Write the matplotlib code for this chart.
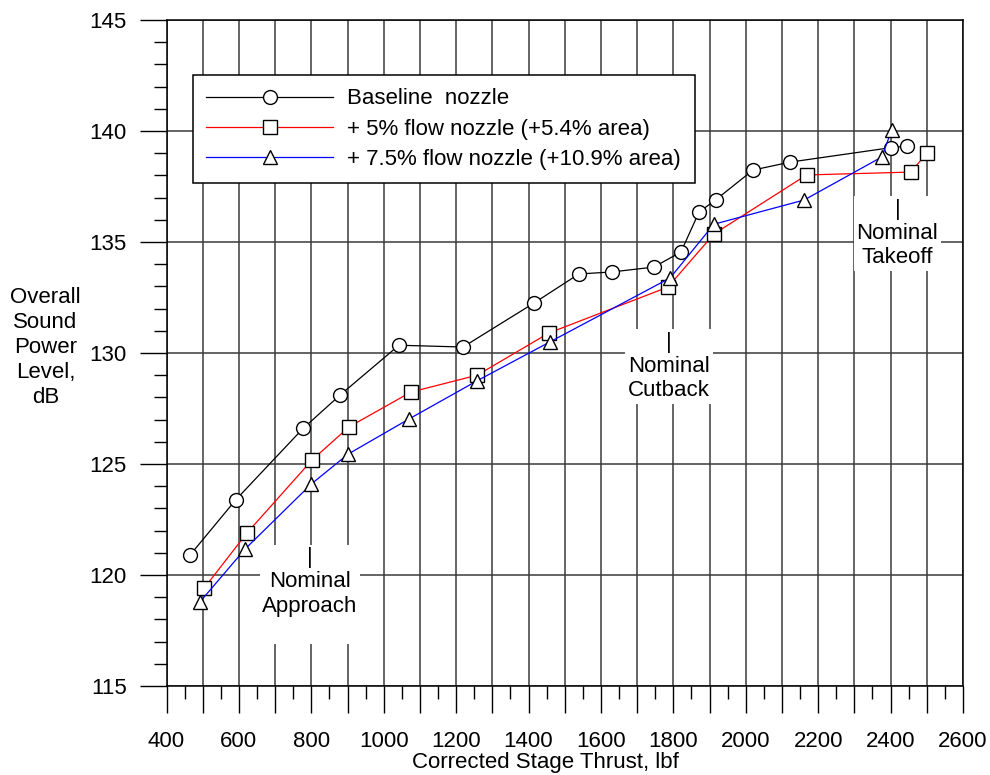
import matplotlib
matplotlib.use("Agg")
from matplotlib import pyplot as plt
from matplotlib.ticker import MultipleLocator, FuncFormatter

plt.rcParams['font.family'] = ['Liberation Sans', 'DejaVu Sans']

# Baseline nozzle
base_x = [465, 592, 777, 879, 1042, 1219, 1415, 1539, 1630, 1746, 1821, 1871, 1917, 2020, 2123, 2401, 2446]
base_y = [120.9, 123.4, 126.6, 128.1, 130.35, 130.27, 132.25, 133.56, 133.65, 133.87, 134.55, 136.35, 136.9, 138.24, 138.6, 139.25, 139.32]

# +5% flow nozzle
flow5_x = [504, 622, 802, 904, 1075, 1258, 1456, 1785, 1912, 2168, 2456, 2500]
flow5_y = [119.41, 121.89, 125.18, 126.67, 128.24, 129.0, 130.9, 132.97, 135.36, 138.02, 138.15, 139.0]

# +7.5% flow nozzle
flow75_x = [493, 617, 800, 902, 1070, 1257, 1459, 1791, 1912, 2161, 2376, 2403]
flow75_y = [118.8, 121.17, 124.1, 125.45, 127.03, 128.74, 130.5, 133.38, 135.8, 136.89, 138.83, 140.05]

labels = ["Baseline  nozzle", "+ 5% flow nozzle (+5.4% area)", "+ 7.5% flow nozzle (+10.9% area)"]

notes = ["|\nNominal\nApproach\n ", "|\nNominal\nCutback", "|\nNominal\nTakeoff"]
note_x = [796, 1788, 2419]
note_y = [121.25, 130.95, 136.95]

fs = 16

fig = plt.figure(figsize=(9.9, 7.75), dpi=100)
ax = fig.add_axes([0.1682, 0.1148, 0.8045, 0.8594])

mk = dict(markerfacecolor='white', markeredgecolor='black', markeredgewidth=1.0, zorder=3)
ax.plot(base_x, base_y, color='black', lw=0.9, marker='o', ms=10, label=labels[0], **mk)
ax.plot(flow5_x, flow5_y, color='red', lw=0.9, marker='s', ms=9.5, label=labels[1], **mk)
ax.plot(flow75_x, flow75_y, color='blue', lw=0.9, marker='^', ms=9.5, label=labels[2], **mk)

ax.set_xlim(400, 2600)
ax.set_ylim(115, 145)

ax.xaxis.set_major_locator(MultipleLocator(100))
ax.xaxis.set_minor_locator(MultipleLocator(50))
ax.xaxis.set_major_formatter(FuncFormatter(lambda v, p: f"{int(v)}" if int(round(v)) % 200 == 0 else ""))
ax.yaxis.set_major_locator(MultipleLocator(5))
ax.yaxis.set_minor_locator(MultipleLocator(1))

ax.tick_params(which='major', direction='out', length=19.5, width=1.0, labelsize=fs)
ax.tick_params(which='minor', direction='out', length=9.5, width=1.0)
ax.tick_params(axis='x', which='major', pad=13)
ax.tick_params(axis='y', which='major', pad=9)

ax.set_axisbelow(True)
ax.grid(True, which='major', color='#3a3a3a', lw=1.1)
for s in ax.spines.values():
    s.set_linewidth(1.1)

for t, x, y in zip(notes, note_x, note_y):
    ax.text(x, y, t, fontsize=fs, ha='center', va='top', linespacing=1.2, zorder=2,
            bbox=dict(facecolor='white', edgecolor='none', pad=2))

leg = ax.legend(loc='upper left', bbox_to_anchor=(0.0333, 0.9174), borderaxespad=0,
                fontsize=fs, handlelength=5.7, handletextpad=0.65, borderpad=0.6,
                labelspacing=0.42, fancybox=False, framealpha=1, edgecolor='black')
leg.get_frame().set_linewidth(1.1)

fig.text(0.046, 0.551, "Overall\nSound\nPower\nLevel,\ndB", fontsize=fs, ha='center', va='center', linespacing=1.25)
fig.text(0.551, 0.002, "Corrected Stage Thrust, lbf", fontsize=fs, ha='center', va='bottom')

fig.savefig("out.png", dpi=100)
